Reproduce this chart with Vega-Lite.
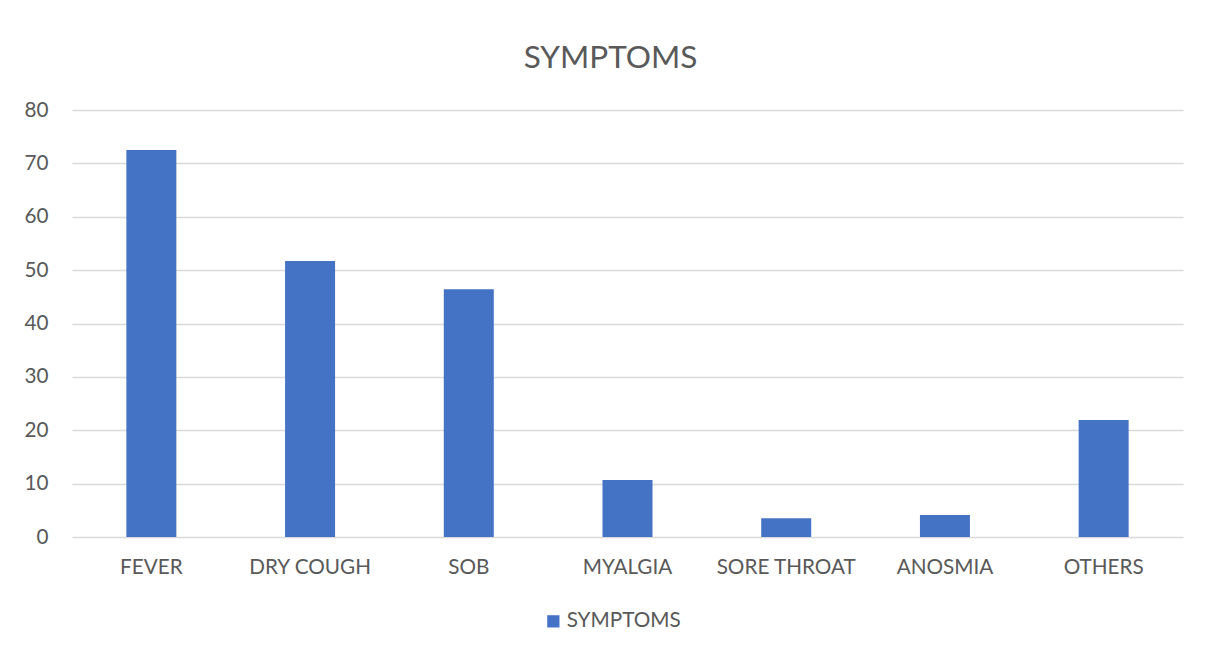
{
  "$schema": "https://vega.github.io/schema/vega-lite/v6.json",
  "width": 1111,
  "height": 427,
  "autosize": {"type": "none"},
  "padding": {"left": 72, "top": 110, "right": 24, "bottom": 114},
  "background": "white",
  "title": {
    "text": "SYMPTOMS",
    "font": "Lato",
    "fontSize": 31.5,
    "fontWeight": "normal",
    "color": "#595959",
    "anchor": "middle",
    "dx": -17,
    "offset": 25
  },
  "data": {
    "values": [
      {"symptom": "FEVER", "value": 72.5, "series": "SYMPTOMS"},
      {"symptom": "DRY COUGH", "value": 51.7, "series": "SYMPTOMS"},
      {"symptom": "SOB", "value": 46.4, "series": "SYMPTOMS"},
      {"symptom": "MYALGIA", "value": 10.7, "series": "SYMPTOMS"},
      {"symptom": "SORE THROAT", "value": 3.5, "series": "SYMPTOMS"},
      {"symptom": "ANOSMIA", "value": 4.1, "series": "SYMPTOMS"},
      {"symptom": "OTHERS", "value": 21.9, "series": "SYMPTOMS"}
    ]
  },
  "mark": {"type": "bar"},
  "encoding": {
    "x": {
      "field": "symptom",
      "type": "nominal",
      "sort": null,
      "title": null,
      "scale": {"paddingInner": 0.685, "paddingOuter": 0.3425},
      "axis": {
        "labelAngle": 0,
        "domain": false,
        "ticks": false,
        "labelPadding": 20,
        "labelFont": "Lato",
        "labelFontSize": 20.7,
        "labelColor": "#595959"
      }
    },
    "y": {
      "field": "value",
      "type": "quantitative",
      "title": null,
      "scale": {"domain": [0, 80]},
      "axis": {
        "values": [0, 10, 20, 30, 40, 50, 60, 70, 80],
        "domain": false,
        "ticks": false,
        "labelPadding": 24,
        "labelFont": "Lato",
        "labelFontSize": 20.7,
        "labelColor": "#595959",
        "gridColor": "#d9d9d9",
        "gridWidth": 1.3
      }
    },
    "color": {
      "field": "series",
      "type": "nominal",
      "scale": {"range": ["#4472c4"]},
      "legend": {
        "title": null,
        "orient": "none",
        "legendX": 471,
        "legendY": 501,
        "symbolType": "square",
        "symbolSize": 150,
        "labelFont": "Lato",
        "labelFontSize": 20.7,
        "labelColor": "#595959",
        "labelOffset": 3
      }
    }
  },
  "config": {
    "view": {"stroke": null}
  }
}
